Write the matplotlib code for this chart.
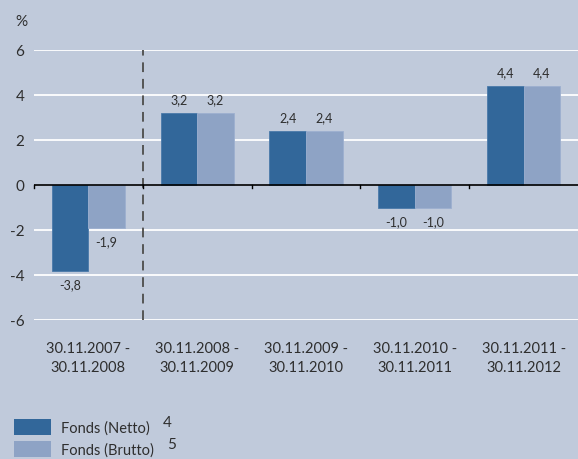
import numpy as np
import matplotlib
matplotlib.use('Agg')
from matplotlib import pyplot as plt
from matplotlib.patches import Rectangle

periods = ['30.11.2007 -\n30.11.2008', '30.11.2008 -\n30.11.2009', '30.11.2009 -\n30.11.2010',
           '30.11.2010 -\n30.11.2011', '30.11.2011 -\n30.11.2012']
netto = [-3.8, 3.2, 2.4, -1.0, 4.4]
brutto = [-1.9, 3.2, 2.4, -1.0, 4.4]
yticks = [-6, -4, -2, 0, 2, 4, 6]
legend_labels = ['Fonds (Netto)', 'Fonds (Brutto)']
legend_notes = ['4', '5']

bg = '#c0cadb'
c_dark = '#32679a'
c_light = '#8ea3c5'
txt = '#2e2e2e'

plt.rcParams['font.family'] = ['Lato', 'DejaVu Sans']

fig = plt.figure(figsize=(5.78, 4.60), dpi=100, facecolor=bg)
ax = fig.add_axes([34/578, (460-321)/460, 1-34/578, 270/460])
ax.set_facecolor(bg)

x = np.arange(len(periods))
w = 0.336
b1 = ax.bar(x - w/2, netto, w, color=c_dark, edgecolor='#4a7aaa', linewidth=0.6, zorder=3)
b2 = ax.bar(x + w/2, brutto, w, color=c_light, edgecolor='#9db0cf', linewidth=0.6, zorder=3)

def fmt(v):
    return ('%.1f' % v).replace('.', ',')

for bars, vals in ((b1, netto), (b2, brutto)):
    for r, v in zip(bars, vals):
        cx = r.get_x() + r.get_width()/2
        if v >= 0:
            ax.text(cx, v + 0.35, fmt(v), ha='center', va='bottom', fontsize=9, color=txt)
        else:
            ax.text(cx, v - 0.35, fmt(v), ha='center', va='top', fontsize=9, color=txt)

ax.set_xlim(-0.5, 4.5)
ax.set_ylim(-6, 6)
for y in yticks:
    if y != 0:
        ax.axhline(y, color='white', lw=1.3, zorder=1)
ax.plot([-0.5, 4.5], [0, 0], color='black', lw=1.2, zorder=4)
ax.axvline(0.5, color='#555555', lw=1.4, ls=(0, (5, 3.5)), zorder=2)

for s in ax.spines.values():
    s.set_visible(False)

ax.set_yticks(yticks)
ax.set_yticklabels([str(y) for y in yticks], fontsize=11, color=txt)
ax.tick_params(axis='y', length=0, pad=7)

ax.set_xticks(x)
ax.set_xticklabels(periods, fontsize=10.5, color=txt, linespacing=1.45)
ax.tick_params(axis='x', which='major', length=0, pad=15)
for xm in np.arange(-0.5, 4.5, 1.0):
    ax.plot([xm, xm], [0, -0.13], color='black', lw=1, zorder=4, clip_on=False)

fig.text(15/578, 1 - 22/460, '%', fontsize=11, color=txt, ha='left', va='center')

# legend
for i, (lab, note, col) in enumerate(zip(legend_labels, legend_notes, [c_dark, c_light])):
    y0 = 1 - (436 + 22*i)/460
    fig.add_artist(Rectangle((14/578, y0), 37/578, 16/460, transform=fig.transFigure,
                             facecolor=col, edgecolor='none'))
    fig.text(61/578, y0 + 7/460, lab, fontsize=10.5, color=txt, ha='left', va='center')
    fig.text((163 + 4*i)/578, y0 + 13/460, note, fontsize=11, color=txt, ha='left', va='center')

fig.savefig('out.png', dpi=100, facecolor=bg)
